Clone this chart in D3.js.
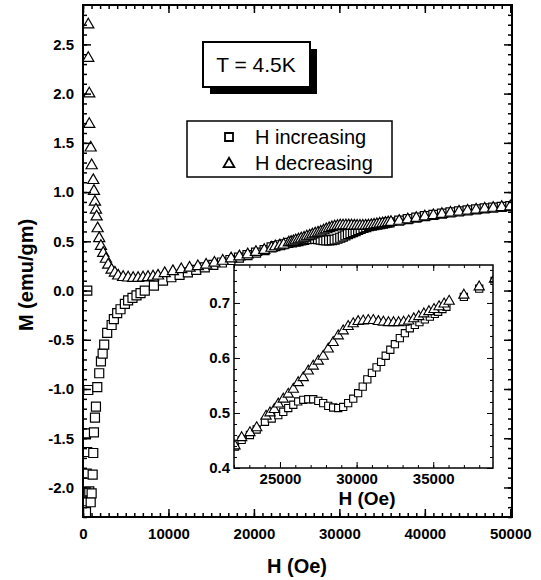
<!DOCTYPE html>
<html>
<head>
<meta charset="utf-8">
<script src="https://cdn.jsdelivr.net/npm/d3@7"></script>
<style>
  body { margin: 0; background: #fff; }
  svg { font-family: "Liberation Sans", Arial, sans-serif; }
</style>
</head>
<body>
<svg width="541" height="580"></svg>
<script>
  // H increasing (squares)
  const incH = [500, 620, 350, 500, 430, 350, 350, 734, 900, 1010, 1130, 1200, 1280, 1400, 1515, 1670,
    1900, 2100, 2300, 2480, 2830, 3350, 3610, 4000, 4390, 4900, 5280, 5790, 6260, 6730, 7230, 8300, 9360,
    10340, 11300, 12270, 13250, 14250, 15250, 16250, 17250, 18250, 19250, 20250, 21250,
    22065, 22500, 23040, 23480, 24020, 24460, 24890, 25215, 25540, 25870, 26190, 26520, 26845, 27170,
    27500, 27820, 28150, 28470, 28800, 29125, 29450, 29780, 30100, 30400, 30700, 31000, 31300, 31600,
    31900, 32200, 32500, 32820, 33150, 33470, 33800, 34100, 34450, 34780, 35100, 35320, 35600, 35860,
    37000, 38000, 39000, 40000, 41000, 42000, 43000, 44000, 45000, 46000, 47000, 48000, 49000, 50000];
  const incM = [0.00, -1.01, -1.45, -1.64, -1.86, -2.14, -2.25, -2.04, -2.15, -2.06, -1.87, -1.65, -1.44, -1.29, -1.18, -0.98,
    -0.84, -0.72, -0.64, -0.55, -0.43, -0.35, -0.29, -0.23, -0.19, -0.135, -0.10, -0.075, -0.05, -0.027, 0.0, 0.05, 0.10,
    0.135, 0.16, 0.185, 0.21, 0.235, 0.26, 0.285, 0.31, 0.335, 0.36, 0.385, 0.41,
    0.439, 0.451, 0.460, 0.470, 0.484, 0.490, 0.496, 0.502, 0.509, 0.515, 0.521, 0.524, 0.525, 0.525,
    0.522, 0.518, 0.513, 0.510, 0.509, 0.511, 0.518, 0.526, 0.536, 0.548, 0.561, 0.573, 0.583, 0.593,
    0.604, 0.615, 0.625, 0.636, 0.645, 0.654, 0.660, 0.665, 0.670, 0.675, 0.680, 0.684, 0.689, 0.693,
    0.711, 0.726, 0.740, 0.755, 0.768, 0.781, 0.793, 0.805, 0.815, 0.825, 0.834, 0.843, 0.850, 0.857];

  // H decreasing (triangles)
  const decH = [618, 618, 734, 734, 897, 1014, 1200, 1282, 1399, 1515, 1597, 1713, 1900, 2098, 2366, 2681,
    2949, 3345, 3730, 4117, 4700, 5285, 5870, 6450, 7030, 7610, 8200, 8780, 9560,
    10520, 11500, 12470, 13440, 14410, 15380, 16350, 17330, 18300, 19270, 20240, 21210,
    22065, 22500, 23040, 23480, 24090, 24350, 24630, 24890, 25215, 25540, 25870, 26190, 26520, 26845,
    27170, 27500, 27820, 28150, 28470, 28800, 29125, 29450, 29780, 30100, 30430, 30760, 31090, 31420,
    31750, 32080, 32410, 32740, 33070, 33400, 33730, 34060, 34390, 34720, 35050, 35380, 35710, 36040,
    37000, 38000, 39000, 40000, 41000, 42000, 43000, 44000, 45000, 46000, 47000, 48000, 49000, 50000];
  const decM = [2.71, 2.37, 2.01, 1.70, 1.46, 1.28, 1.13, 1.02, 0.91, 0.83, 0.76, 0.64, 0.54, 0.46, 0.39, 0.33,
    0.27, 0.22, 0.19, 0.16, 0.145, 0.14, 0.135, 0.135, 0.14, 0.145, 0.15, 0.16, 0.185,
    0.205, 0.225, 0.24, 0.255, 0.27, 0.29, 0.31, 0.335, 0.355, 0.375, 0.40, 0.42,
    0.442, 0.457, 0.466, 0.475, 0.496, 0.502, 0.508, 0.518, 0.527, 0.536, 0.545, 0.557, 0.566, 0.578,
    0.587, 0.596, 0.605, 0.618, 0.630, 0.642, 0.651, 0.659, 0.664, 0.668, 0.669, 0.670, 0.670, 0.668,
    0.667, 0.666, 0.666, 0.666, 0.667, 0.669, 0.673, 0.677, 0.682, 0.686, 0.690, 0.695, 0.700, 0.705,
    0.716, 0.731, 0.745, 0.760, 0.773, 0.786, 0.798, 0.810, 0.820, 0.830, 0.840, 0.848, 0.856, 0.863];

  const mainXTicks = [0, 10000, 20000, 30000, 40000, 50000];
  const mainYTicks = [-2.0, -1.5, -1.0, -0.5, 0.0, 0.5, 1.0, 1.5, 2.0, 2.5];
  const insetXTicks = [25000, 30000, 35000];
  const insetYTicks = [0.4, 0.5, 0.6, 0.7];
  const legendLabels = ['H increasing', 'H decreasing'];
  const tempLabel = 'T = 4.5K';
  const xLabel = 'H (Oe)';
  const yLabel = 'M (emu/gm)';

  const inc = incH.map((h, i) => ({ h: h, m: incM[i] }));
  const dec = decH.map((h, i) => ({ h: h, m: decM[i] }));

  const svg = d3.select('svg');

  const sq = d3.symbol().type(d3.symbolSquare);
  const tri = d3.symbol().type(d3.symbolTriangle);

  // ticks on all four sides, pointing inward
  const frameAxes = (g, x, y, c) => {
    const [x0, x1] = x.range();
    const [y0, y1] = y.range();
    const sides = [
      { axis: d3.axisBottom(x), tr: `translate(0,${y0})`, vals: c.xMajor, minor: c.xMinor, fmt: c.fmtX, pad: c.xPad },
      { axis: d3.axisTop(x), tr: `translate(0,${y1})`, vals: c.xMajor, minor: c.xMinor, fmt: null },
      { axis: d3.axisLeft(y), tr: `translate(${x0},0)`, vals: c.yMajor, minor: c.yMinor, fmt: c.fmtY, pad: c.yPad },
      { axis: d3.axisRight(y), tr: `translate(${x1},0)`, vals: c.yMajor, minor: c.yMinor, fmt: null }
    ];
    sides.forEach(s => {
      const mn = g.append('g').attr('transform', s.tr)
        .call(s.axis.tickValues(s.minor).tickSize(-c.minor).tickSizeOuter(0).tickFormat(''));
      mn.select('.domain').remove();
      mn.selectAll('line').attr('stroke-width', c.tickW);
      const mj = g.append('g').attr('transform', s.tr)
        .call(s.axis.tickValues(s.vals).tickSize(-c.major).tickSizeOuter(0)
          .tickPadding(s.pad || 0).tickFormat(s.fmt || (() => '')));
      mj.select('.domain').remove();
      mj.selectAll('line').attr('stroke-width', c.tickW);
      mj.selectAll('text')
        .attr('font-family', '"Liberation Sans", Arial, sans-serif')
        .attr('font-size', c.fontSize)
        .attr('font-weight', 'bold')
        .attr('fill', '#000');
    });
    g.append('rect')
      .attr('x', x0).attr('y', y1)
      .attr('width', x1 - x0).attr('height', y0 - y1)
      .attr('fill', 'none').attr('stroke', '#000').attr('stroke-width', c.frameW);
  };

  // ---- main plot ----
  const x = d3.scaleLinear().domain([0, 50200]).range([83, 512]);
  const y = d3.scaleLinear().domain([-2.3, 2.9]).range([517, 5]);

  svg.append('clipPath').attr('id', 'clipMain')
    .append('rect').attr('x', 83).attr('y', 5).attr('width', 429).attr('height', 512);

  const gMain = svg.append('g').attr('clip-path', 'url(#clipMain)');
  gMain.selectAll('path.inc').data(inc).enter().append('path')
    .attr('class', 'inc')
    .attr('d', sq.size(81))
    .attr('transform', d => `translate(${x(d.h)},${y(d.m)})`)
    .attr('fill', '#fff').attr('stroke', '#000').attr('stroke-width', 1.2);
  gMain.selectAll('path.dec').data(dec).enter().append('path')
    .attr('class', 'dec')
    .attr('d', tri.size(54))
    .attr('transform', d => `translate(${x(d.h)},${y(d.m) + 1})`)
    .attr('fill', '#fff').attr('stroke', '#000').attr('stroke-width', 1.2);

  frameAxes(svg.append('g'), x, y, {
    xMajor: mainXTicks, xMinor: d3.range(0, 50001, 1000),
    yMajor: mainYTicks, yMinor: d3.range(-23, 29).map(v => v / 10),
    major: 8, minor: 4, tickW: 1.5, frameW: 2, fontSize: 15,
    xPad: 11, yPad: 9,
    fmtX: d => d, fmtY: d => d.toFixed(1)
  });

  svg.append('text')
    .attr('x', 297).attr('y', 573)
    .attr('text-anchor', 'middle')
    .attr('font-size', 20).attr('font-weight', 'bold')
    .text(xLabel);

  svg.append('text')
    .attr('transform', 'translate(33,275) rotate(-90)')
    .attr('text-anchor', 'middle')
    .attr('font-size', 20).attr('font-weight', 'bold')
    .text(yLabel);

  // temperature box with shadow
  svg.append('rect').attr('x', 210).attr('y', 49).attr('width', 107).attr('height', 45).attr('fill', '#000');
  svg.append('rect').attr('x', 203).attr('y', 42).attr('width', 107).attr('height', 45)
    .attr('fill', '#fff').attr('stroke', '#000').attr('stroke-width', 2);
  svg.append('text')
    .attr('x', 256).attr('y', 72)
    .attr('text-anchor', 'middle')
    .attr('font-size', 21)
    .text(tempLabel);

  // legend
  svg.append('rect').attr('x', 187).attr('y', 121).attr('width', 205).attr('height', 56)
    .attr('fill', '#fff').attr('stroke', '#000').attr('stroke-width', 1.5);
  const legend = svg.append('g');
  legendLabels.forEach((lab, i) => {
    const ly = 137 + i * 26;
    legend.append('path')
      .attr('d', (i === 0 ? sq.size(64) : tri.size(50))())
      .attr('transform', `translate(229,${ly + (i === 0 ? 0 : 1)})`)
      .attr('fill', '#fff').attr('stroke', '#000').attr('stroke-width', 1.8);
    legend.append('text')
      .attr('x', 255).attr('y', ly + 7)
      .attr('font-size', 20)
      .text(lab);
  });

  // ---- inset ----
  const xi = d3.scaleLinear().domain([22000, 38900]).range([234, 493]);
  const yi = d3.scaleLinear().domain([0.4, 0.769]).range([468, 265]);

  svg.append('rect').attr('x', 234).attr('y', 265).attr('width', 259).attr('height', 203).attr('fill', '#fff');
  svg.append('clipPath').attr('id', 'clipInset')
    .append('rect').attr('x', 234).attr('y', 265).attr('width', 259).attr('height', 203);

  const gIn = svg.append('g').attr('clip-path', 'url(#clipInset)');
  gIn.selectAll('path.inc').data(inc.filter(d => d.h > 21000)).enter().append('path')
    .attr('class', 'inc')
    .attr('d', sq.size(52))
    .attr('transform', d => `translate(${xi(d.h)},${yi(d.m)})`)
    .attr('fill', '#fff').attr('stroke', '#000').attr('stroke-width', 1.1);
  gIn.selectAll('path.dec').data(dec.filter(d => d.h > 21000)).enter().append('path')
    .attr('class', 'dec')
    .attr('d', tri.size(46))
    .attr('transform', d => `translate(${xi(d.h)},${yi(d.m) + 1})`)
    .attr('fill', '#fff').attr('stroke', '#000').attr('stroke-width', 1.1);

  frameAxes(svg.append('g'), xi, yi, {
    xMajor: insetXTicks, xMinor: d3.range(22000, 38901, 1000),
    yMajor: insetYTicks, yMinor: d3.range(20, 39).map(v => v / 50),
    major: 6, minor: 3, tickW: 1, frameW: 1.5, fontSize: 15,
    xPad: 5, yPad: 4,
    fmtX: d => d, fmtY: d => d.toFixed(1)
  });

  svg.append('text')
    .attr('x', 367).attr('y', 505)
    .attr('text-anchor', 'middle')
    .attr('font-size', 19).attr('font-weight', 'bold')
    .text(xLabel);
</script>
</body>
</html>
